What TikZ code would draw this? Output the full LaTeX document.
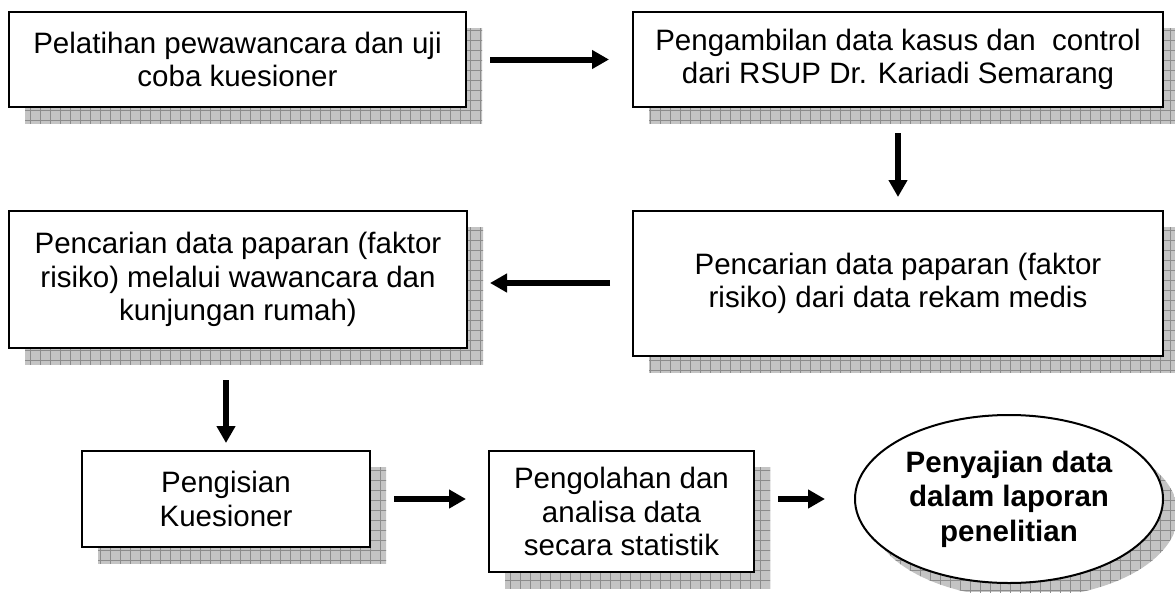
\documentclass[tikz,border=0pt]{standalone}
\usepackage{fontspec}
\setmainfont{Liberation Sans}
\usetikzlibrary{arrows.meta,shapes.geometric}

\definecolor{shadowgray}{RGB}{196,196,196}
\definecolor{gridgray}{RGB}{140,140,140}

% grey chequered drop shadow: fill the given closed path and rule a 10pt grid inside it
\newcommand\gridshadow[1]{%
  \begin{scope}
    \clip #1;
    \fill[shadowgray] (0,0) rectangle (1175,592);
    \foreach \gx in {0,10,...,1180} \draw[gridgray,line width=0.9pt] (\gx,0) -- (\gx,600);
    \foreach \gy in {0,10,...,600} \draw[gridgray,line width=0.9pt] (0,\gy) -- (1180,\gy);
  \end{scope}}

\tikzset{
  stepbox/.style={draw=black, line width=2pt, fill=white, rectangle, inner sep=4pt,
    align=center, font=\fontsize{29.5}{33.5}\selectfont},
  endoval/.style={draw=black, line width=2pt, fill=white, ellipse, inner sep=0pt,
    align=center, font=\fontsize{29.5}{34.5}\selectfont\bfseries},
  flow/.style={line width=6pt, -{Triangle[length=17pt,width=18pt]}}
}

\begin{document}
\begin{tikzpicture}[x=1pt,y=-1pt]
  \useasboundingbox (0,0) rectangle (1175,592);
  \begin{scope}
  \clip (0,0) rectangle (1175,592);

  % shadows, offset 16pt to the lower right
  \gridshadow{(25,28) rectangle (482,123)}
  \gridshadow{(649,28) rectangle (1179,123)}
  \gridshadow{(649,227) rectangle (1179,372)}
  \gridshadow{(25,227) rectangle (483,364)}
  \gridshadow{(98,467) rectangle (386,563)}
  \gridshadow{(505,467) rectangle (770,588)}
  \gridshadow{(1024,514) ellipse [x radius=154, y radius=84]}

  % process steps
  \node[stepbox, minimum width=457pt, minimum height=95pt] (b1) at (237.5,59.5)
    {Pelatihan pewawancara dan uji\\coba kuesioner};
  \node[stepbox, minimum width=530pt, minimum height=95pt] (b2) at (898,59.5)
    {Pengambilan data kasus dan~ control\\dari RSUP Dr. Kariadi Semarang};
  \node[stepbox, minimum width=530pt, minimum height=145pt] (b3) at (898,283.5)
    {Pencarian data paparan (faktor\\risiko) dari data rekam medis};
  \node[stepbox, minimum width=458pt, minimum height=137pt] (b4) at (238,279.5)
    {Pencarian data paparan (faktor\\risiko) melalui wawancara dan\\kunjungan rumah)};
  \node[stepbox, minimum width=288pt, minimum height=96pt] (b5) at (226,499)
    {Pengisian\\Kuesioner};
  \node[stepbox, minimum width=265pt, minimum height=121pt] (b6) at (621.5,511.5)
    {Pengolahan dan\\analisa data\\secara statistik};
  \node[endoval, minimum width=308pt, minimum height=168pt] (e) at (1009,499)
    {Penyajian data\\dalam laporan\\penelitian};

  % connectors
  \draw[flow, shorten <=23pt, shorten >=23pt] (b1.east) -- (b1.east -| b2.west);
  \draw[flow, shorten <=25pt, shorten >=13pt] (b2.south) -- (b3.north);
  \draw[flow, shorten <=22pt, shorten >=22pt] (b3.west |- 0,283) -- (b4.east |- 0,283);
  \draw[flow, shorten <=31pt, shorten >=7pt] (b5.north |- b4.south) -- (b5.north);
  \draw[flow, shorten <=23pt, shorten >=22pt] (b5.east) -- (b5.east -| b6.west);
  \draw[flow, shorten <=23pt, shorten >=29pt] (e.west -| b6.east) -- (e.west);
  \end{scope}
\end{tikzpicture}
\end{document}
